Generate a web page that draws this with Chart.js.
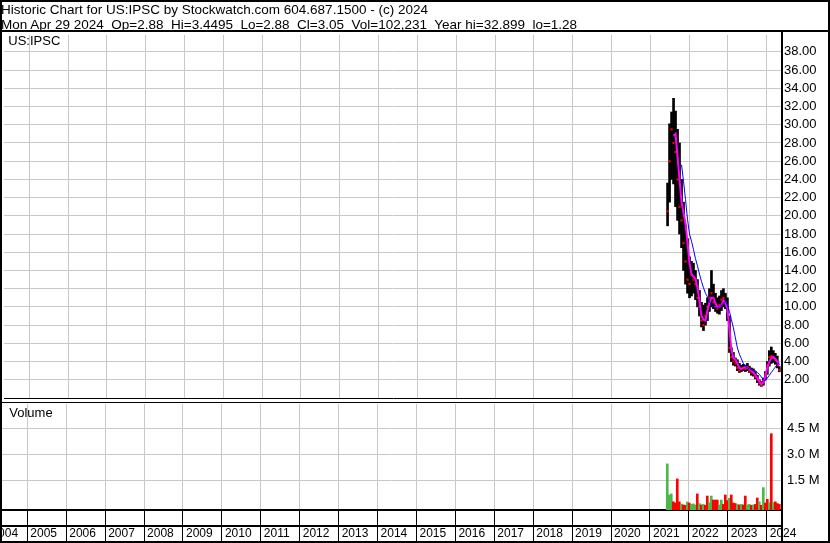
<!DOCTYPE html>
<html>
<head>
<meta charset="utf-8">
<script src="https://cdn.jsdelivr.net/npm/chart.js@4.4.0/dist/chart.umd.min.js"></script>
<style>
  html, body { margin: 0; padding: 0; background: #fff; }
  #wrap { position: relative; width: 830px; height: 543px; overflow: hidden; background: #fff;
          font-family: 'Liberation Sans', Arial, sans-serif; color: #000; }
  #frame { position: absolute; left: 0; top: 0; width: 826px; height: 539px;
           border: 2px solid #000; pointer-events: none; z-index: 5; }
  #headRule { position: absolute; left: 0; top: 30px; width: 830px; height: 2px; background: #000; z-index: 5; }
  #rightRule { position: absolute; left: 781px; top: 31px; width: 2px; height: 512px; background: #000; z-index: 5; }
  #head { position: absolute; left: 1px; top: 1.5px; font-size: 13.5px; line-height: 15.3px; white-space: pre; z-index: 4; }
  .panelLabel { position: absolute; font-size: 13px; line-height: 1.117; z-index: 4; }
  canvas { position: absolute; left: 0; }
  #price { top: 31px; }
  #volume { top: 402px; }
</style>
</head>
<body>
<div id="wrap">
  <canvas id="price" width="830" height="371"></canvas>
  <canvas id="volume" width="830" height="141"></canvas>
  <div id="head">Historic Chart for US:IPSC by Stockwatch.com 604.687.1500 - (c) 2024
Mon Apr 29 2024  Op=2.88  Hi=3.4495  Lo=2.88  Cl=3.05  Vol=102,231  Year hi=32.899  lo=1.28</div>
  <div class="panelLabel" style="left:8.3px; top:33.5px;">US:IPSC</div>
  <div class="panelLabel" style="left:9.3px; top:405.8px;">Volume</div>
  <div id="headRule"></div>
  <div id="rightRule"></div>
  <div id="frame"></div>
</div>
<script>
// x axis (decimal years) and year labels
var years = [2004, 2005, 2006, 2007, 2008, 2009, 2010, 2011, 2012, 2013, 2014,
             2015, 2016, 2017, 2018, 2019, 2020, 2021, 2022, 2023, 2024];
var priceTicks = [2, 4, 6, 8, 10, 12, 14, 16, 18, 20, 22, 24, 26, 28, 30, 32, 34, 36, 38];
var volTicks = [1.5, 3.0, 4.5];

// US:IPSC, one sample every ~9 trading days
var dates = [2021.445, 2021.496, 2021.548, 2021.599, 2021.650, 2021.702, 2021.753, 2021.805, 2021.856, 2021.907,
             2021.959, 2022.010, 2022.062, 2022.113, 2022.164, 2022.216, 2022.267, 2022.319, 2022.370, 2022.422,
             2022.473, 2022.524, 2022.576, 2022.627, 2022.679, 2022.730, 2022.781, 2022.833, 2022.884, 2022.936,
             2022.987, 2023.039, 2023.090, 2023.141, 2023.193, 2023.244, 2023.296, 2023.347, 2023.398, 2023.450,
             2023.501, 2023.553, 2023.604, 2023.656, 2023.707, 2023.758, 2023.810, 2023.861, 2023.913, 2023.964,
             2024.015, 2024.067, 2024.118, 2024.170, 2024.221, 2024.272, 2024.324];
var highs = [23.6, 30.1, 31.4, 32.9, 31.5, 29.5, 28.0, 24.0, 21.5, 19.0,
             17.5, 15.5, 15.0, 14.8, 14.0, 13.0, 11.8, 10.5, 10.2, 10.4,
             11.0, 12.0, 14.0, 12.5, 11.5, 11.0, 11.2, 11.8, 12.0, 11.5,
             11.0, 9.0, 5.5, 5.0, 4.4, 4.2, 3.8, 3.6, 3.7, 3.6,
             3.8, 3.5, 3.3, 3.2, 2.9, 2.5, 2.0, 1.8, 2.2, 2.9,
             4.0, 5.2, 5.6, 5.2, 4.9, 4.6, 3.45];
var lows = [18.9, 21.5, 24.0, 23.5, 21.0, 19.5, 18.0, 16.5, 14.0, 12.5,
            11.5, 11.0, 11.2, 11.5, 10.8, 10.0, 9.0, 7.8, 7.4, 8.0,
            8.5, 9.5, 10.0, 9.8, 9.5, 9.3, 9.2, 9.6, 10.0, 9.8,
            8.5, 5.0, 4.0, 3.6, 3.5, 3.0, 2.8, 2.9, 3.0, 2.9,
            3.0, 2.8, 2.5, 2.4, 2.1, 1.7, 1.4, 1.28, 1.4, 2.0,
            2.6, 3.5, 3.8, 3.9, 3.7, 3.3, 2.88];
var closes = [20.5, 26.0, 29.5, 28.0, 27.0, 24.0, 21.0, 19.5, 17.0, 15.0,
              13.0, 12.5, 13.5, 13.0, 12.5, 11.0, 10.0, 8.5, 8.0, 9.0,
              10.0, 11.0, 11.5, 10.5, 10.0, 9.8, 10.2, 10.8, 11.0, 10.5,
              9.5, 5.5, 4.5, 4.0, 3.8, 3.3, 3.0, 3.2, 3.3, 3.2,
              3.4, 3.0, 2.8, 2.7, 2.3, 2.0, 1.6, 1.4, 1.9, 2.6,
              3.6, 4.5, 4.6, 4.4, 4.2, 3.6, 3.05];
// moving averages (magenta short, blue long)
var maShort = [null, null, null, 28.8, 29.0, 26.5, 24.0, 21.5, 20.3, 19.2,
               17.0, 14.8, 13.6, 13.3, 13.1, 12.1, 10.6, 9.0, 8.6, 8.5,
               9.6, 10.5, 11.0, 11.0, 10.4, 10.0, 10.0, 10.2, 10.7, 10.4,
               9.8, 7.5, 5.3, 4.4, 4.2, 3.8, 3.3, 3.2, 3.3, 3.4,
               3.3, 3.2, 3.0, 2.8, 2.5, 2.2, 1.8, 1.5, 1.7, 2.4,
               3.4, 4.0, 4.4, 4.5, 4.3, 4.0, 3.6];
var maLong = [null, null, null, null, null, null, null, 25.6, 23.8, 21.8,
              19.6, 18.0, 17.2, 16.3, 15.3, 14.5, 13.6, 12.8, 12.1, 11.5,
              11.1, 10.6, 10.2, 10.0, 9.9, 9.9, 10.0, 10.2, 10.4, 10.6,
              10.2, 9.5, 8.6, 7.7, 6.6, 5.5, 4.8, 4.3, 3.8, 3.5,
              3.3, 3.2, 3.1, 3.0, 3.0, 2.8, 2.6, 2.3, 2.0, 1.9,
              2.2, 2.5, 2.8, 3.1, 3.4, 3.7, 3.9];
// volume in millions, 1 = up day (green), 0 = down day (red)
var volumes = [2.47, 0.69, 0.75, 0.30, 0.23, 1.61, 0.30, 0.17, 0.12, 0.10,
               0.29, 0.23, 0.15, 0.18, 0.12, 0.75, 0.20, 0.12, 0.15, 0.10,
               0.63, 0.25, 0.63, 0.40, 0.40, 0.40, 0.12, 0.40, 0.15, 0.69,
               0.37, 0.50, 0.69, 0.23, 0.20, 0.15, 0.12, 0.15, 0.12, 0.63,
               0.12, 0.15, 0.10, 0.12, 0.15, 0.52, 0.30, 0.10, 1.11, 0.23,
               0.44, 0.25, 4.20, 0.25, 0.30, 0.20, 0.15];
var volUp = [1, 1, 1, 0, 0, 0, 0, 1, 0, 0,
             1, 0, 1, 1, 1, 0, 1, 0, 1, 0,
             0, 1, 1, 0, 0, 0, 1, 1, 0, 0,
             0, 1, 0, 0, 0, 1, 0, 1, 0, 0,
             1, 1, 0, 1, 0, 0, 1, 0, 1, 0,
             0, 1, 0, 1, 0, 0, 0];

var X_MIN = 2004.35, X_MAX = 2024.393;
var VOL_MIN = -0.17, VOL_MAX = 5.9;
var GRID = '#c8c8c8';

Chart.defaults.font.family = "'Liberation Sans', Arial, sans-serif";
Chart.defaults.color = '#000';

function fixedTicks(list) {
    return function (scale) {
        scale.ticks = list.map(function (v) { return { value: v }; });
    };
}
// fixed axis size, and no extra room kept for the end labels
function fixedSize(w, h) {
    return function (s) {
        if (w !== null) s.width = w;
        if (h !== null) s.height = h;
        s.paddingLeft = s.paddingRight = s.paddingTop = s.paddingBottom = 0;
    };
}
function points(arr) {
    return dates.map(function (d, i) { return { x: d, y: arr[i] }; });
}

new Chart(document.getElementById('price'), {
    type: 'bar',
    data: {
        datasets: [{
                type: 'line',
                data: points(maLong),
                borderColor: '#0000ff',
                borderWidth: 1,
                pointRadius: 0,
                order: 0
            },
            {
                type: 'line',
                data: points(maShort),
                borderColor: '#ff00ff',
                borderWidth: 2,
                pointRadius: 0,
                order: 1
            },
            {
                type: 'line',
                showLine: false,
                data: points(closes),
                pointStyle: 'rect',
                pointRadius: 1.5,
                backgroundColor: '#ff0000',
                borderWidth: 0,
                order: 2
            },
            {
                type: 'bar',
                data: dates.map(function (d, i) { return { x: d, y: [lows[i], highs[i]] }; }),
                backgroundColor: '#000',
                barThickness: 2,
                order: 3
            }
        ]
    },
    options: {
        responsive: false,
        animation: false,
        events: [],
        layout: { padding: { left: 2, top: 1, right: 0, bottom: 2 } },
        plugins: { legend: { display: false }, tooltip: { enabled: false } },
        scales: {
            x: {
                type: 'linear',
                min: X_MIN,
                max: X_MAX,
                offset: false,
                afterBuildTicks: fixedTicks(years.slice(1)),
                afterFit: fixedSize(null, 0),
                ticks: { display: false },
                grid: { color: GRID, drawTicks: false, offset: false },
                border: { color: '#000', width: 1 }
            },
            y: {
                position: 'right',
                min: 0,
                max: 39.85,
                afterBuildTicks: fixedTicks(priceTicks),
                afterFit: fixedSize(48, null),
                ticks: { padding: 2, font: { size: 13 }, callback: function (v) { return v.toFixed(2); } },
                grid: { color: GRID, drawTicks: false },
                border: { color: '#000', width: 2 }
            }
        }
    }
});

// rules of the volume panel and the year strip
var volumeRules = {
    id: 'volumeRules',
    afterDraw: function (chart) {
        var ctx = chart.ctx, area = chart.chartArea, xs = chart.scales.x;
        ctx.save();
        ctx.fillStyle = '#000';
        ctx.fillRect(0, 0, area.right, 1);
        ctx.fillRect(0, xs.top + 15, area.right, 2);
        ctx.restore();
    }
};

new Chart(document.getElementById('volume'), {
    type: 'bar',
    data: {
        datasets: [{
            data: points(volumes),
            backgroundColor: volUp.map(function (u) { return u ? '#4cb848' : '#ff0000'; }),
            barThickness: 2,
            base: VOL_MIN
        }]
    },
    options: {
        responsive: false,
        animation: false,
        events: [],
        layout: { padding: { left: 2, top: 2, right: 0, bottom: 0 } },
        plugins: { legend: { display: false }, tooltip: { enabled: false } },
        scales: {
            x: {
                type: 'linear',
                min: X_MIN,
                max: X_MAX,
                offset: false,
                afterBuildTicks: fixedTicks(years),
                afterFit: fixedSize(null, 33),
                ticks: {
                    autoSkip: false,
                    maxRotation: 0,
                    align: 'start',
                    labelOffset: 3,
                    padding: -17,
                    font: { size: 12 },
                    callback: function (v) { return String(v); }
                },
                grid: { color: GRID, tickColor: '#000', tickLength: 33, offset: false },
                border: { color: '#000', width: 2 }
            },
            y: {
                position: 'right',
                min: VOL_MIN,
                max: VOL_MAX,
                afterBuildTicks: fixedTicks(volTicks),
                afterFit: fixedSize(48, null),
                ticks: { padding: 5, font: { size: 13 }, callback: function (v) { return v.toFixed(1) + ' M'; } },
                grid: { color: GRID, drawTicks: false },
                border: { color: '#000', width: 2 }
            }
        }
    },
    plugins: [volumeRules]
});
</script>
</body>
</html>
